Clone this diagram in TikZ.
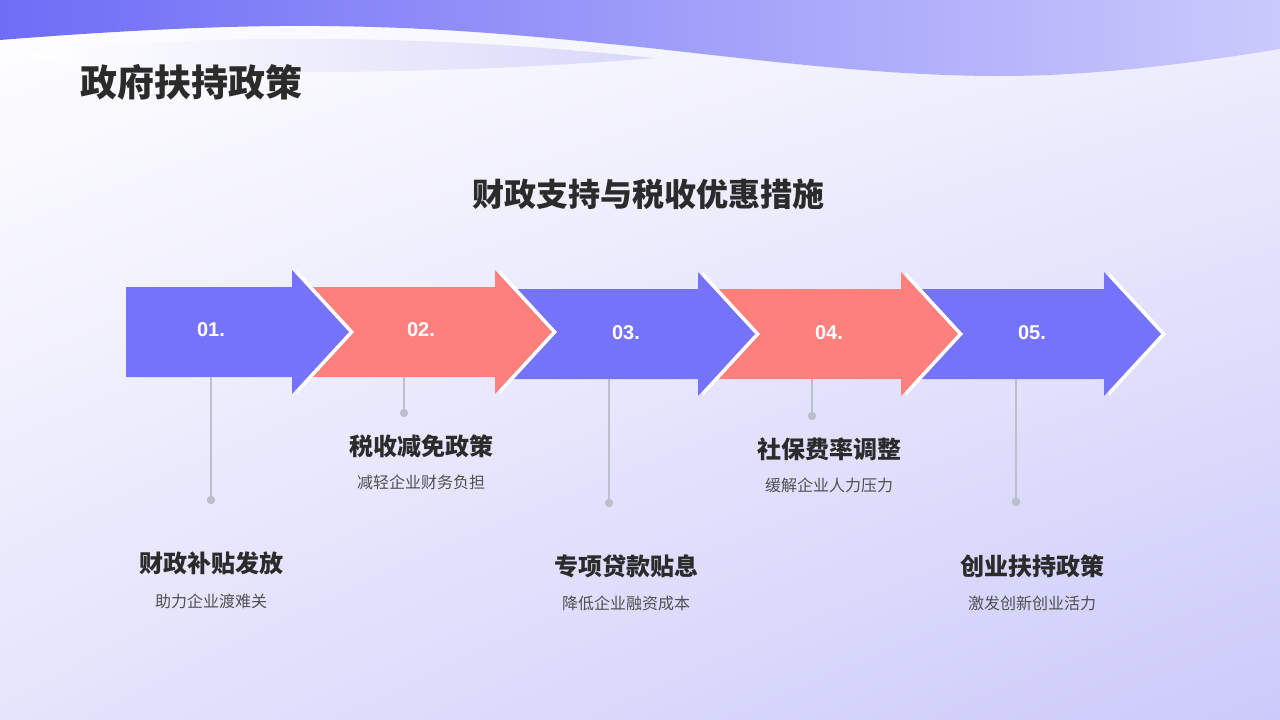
\documentclass[tikz,border=0pt]{standalone}
\usepackage{fontspec}
\setmainfont{Liberation Sans}
\newfontfamily\cjk{Noto Sans CJK SC}
\usetikzlibrary{shadings}
\definecolor{ablue}{HTML}{7473F9}
\definecolor{apink}{HTML}{FE807D}
\definecolor{bannerL}{HTML}{6F6DF6}
\definecolor{bannerR}{HTML}{CBCAFC}
\definecolor{swooshR}{HTML}{D8D8FA}
\definecolor{bgur}{HTML}{EFEFFD}
\definecolor{bgll}{HTML}{E5E4FC}
\definecolor{bglr}{HTML}{CCCAFA}
\definecolor{titlec}{HTML}{2B2B2B}
\definecolor{subc}{HTML}{505050}
\definecolor{linec}{HTML}{BCC0CC}
\definecolor{dotc}{HTML}{BBBFCA}
\newcommand\arrowpath[3]{(#1,#3-45) -- (#2,#3-45) -- (#2,#3-62) -- (#2+57,#3) -- (#2,#3+62) -- (#2,#3+45) -- (#1,#3+45) -- cycle}
\tikzset{
  numlabel/.style={text=white, font=\fontsize{20}{22}\selectfont\bfseries, inner sep=0pt},
  itemtitle/.style={text=titlec, font=\cjk\bfseries\fontsize{24}{28}\selectfont, inner sep=0pt},
  itemsub/.style={text=subc, font=\cjk\fontsize{16}{19}\selectfont, inner sep=0pt},
  conn/.style={draw=linec, line width=1.2pt},
  dotnode/.style={circle, fill=dotc, minimum size=8pt, inner sep=0pt},
}
\begin{document}
\begin{tikzpicture}[x=1pt,y=-1pt]
\useasboundingbox (0,0) rectangle (1280,720);
% background
\shade[upper left=white, upper right=bgur, lower left=bgll, lower right=bglr] (0,0) rectangle (1280,720);
% banner
\shade[left color=bannerL, right color=bannerR]
  (0,40) .. controls (100,32) and (220,25) .. (320,26)
  .. controls (450,27) and (550,38) .. (640,47)
  .. controls (760,60) and (880,76) .. (1000,76)
  .. controls (1100,76) and (1200,62) .. (1280,49)
  -- (1280,0) -- (0,0) -- cycle;
% swoosh
\shade[left color=white, right color=swooshR]
  (40,52) .. controls (150,40) and (250,38) .. (330,39)
  .. controls (450,40) and (560,48) .. (653,58)
  .. controls (560,66) and (450,71) .. (330,72)
  .. controls (200,73) and (80,68) .. (40,60)
  .. controls (32,58) and (32,54) .. (40,52) -- cycle;
% titles
\node[anchor=west, text=titlec, font=\cjk\bfseries\fontsize{37}{42}\selectfont, inner sep=0pt] (title) at (80,82) {政府扶持政策};
\node[text=titlec, font=\cjk\bfseries\fontsize{32}{36}\selectfont, inner sep=0pt] (subtitle) at (648,194) {财政支持与税收优惠措施};
% arrows (drawn last to first)
\fill[white] \arrowpath{906}{1109}{334};
\fill[ablue] \arrowpath{901}{1104}{334};
\fill[white] \arrowpath{703}{906}{334};
\fill[apink] \arrowpath{698}{901}{334};
\fill[white] \arrowpath{500}{703}{334};
\fill[ablue] \arrowpath{495}{698}{334};
\fill[white] \arrowpath{297}{500}{332};
\fill[apink] \arrowpath{292}{495}{332};
\fill[white] \arrowpath{131}{297}{332};
\fill[ablue] \arrowpath{126}{292}{332};
% number labels
\node[numlabel] (n1) at (211,330) {01.};
\node[numlabel] (n2) at (421,330) {02.};
\node[numlabel] (n3) at (626,333) {03.};
\node[numlabel] (n4) at (829,333) {04.};
\node[numlabel] (n5) at (1032,333) {05.};
% connectors
\coordinate (t1) at (211,377);
\coordinate (t2) at (404,377);
\coordinate (t3) at (609,379);
\coordinate (t4) at (812,379);
\coordinate (t5) at (1016,379);
\node[dotnode] (d1) at (211,500) {};
\node[dotnode] (d2) at (404,413) {};
\node[dotnode] (d3) at (609,503) {};
\node[dotnode] (d4) at (812,416) {};
\node[dotnode] (d5) at (1016,502) {};
\draw[conn] (t1) -- (d1.center);
\draw[conn] (t2) -- (d2.center);
\draw[conn] (t3) -- (d3.center);
\draw[conn] (t4) -- (d4.center);
\draw[conn] (t5) -- (d5.center);
\node[dotnode] at (d1) {};
\node[dotnode] at (d2) {};
\node[dotnode] at (d3) {};
\node[dotnode] at (d4) {};
\node[dotnode] at (d5) {};
% item texts
\node[itemtitle] (h1) at (211,563) {财政补贴发放};
\node[itemsub] (s1) at (211,601) {助力企业渡难关};
\node[itemtitle] (h2) at (421,446) {税收减免政策};
\node[itemsub] (s2) at (421,482) {减轻企业财务负担};
\node[itemtitle] (h3) at (626,566) {专项贷款贴息};
\node[itemsub] (s3) at (626,603) {降低企业融资成本};
\node[itemtitle] (h4) at (829,449) {社保费率调整};
\node[itemsub] (s4) at (829,485) {缓解企业人力压力};
\node[itemtitle] (h5) at (1032,566) {创业扶持政策};
\node[itemsub] (s5) at (1032,603) {激发创新创业活力};
\end{tikzpicture}
\end{document}
